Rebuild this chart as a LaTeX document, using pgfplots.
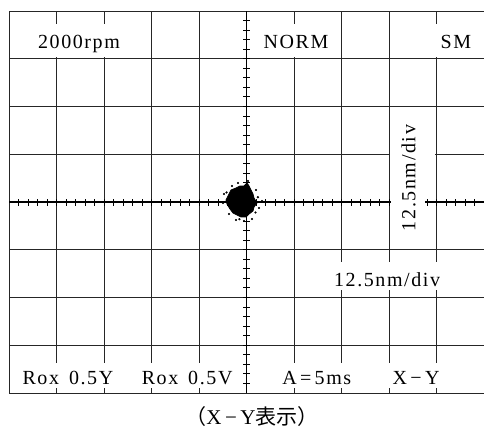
\documentclass[border=0pt]{standalone}
\usepackage{pgfplots}
\pgfplotsset{compat=1.18}
\usepackage{fontspec}
\setmainfont{Liberation Serif}[LetterSpace=8]
\newfontfamily\cjk{Noto Sans CJK JP}
\tikzset{lbl/.style={font=\fontsize{20}{24}\selectfont, inner sep=0pt}}
\begin{document}
\begin{tikzpicture}
\useasboundingbox (0,0) rectangle (484pt,429pt);
\begin{axis}[at={(9pt,36pt)}, anchor=south west, scale only axis,
  width=475pt, height=382pt, xmin=-5, xmax=5, ymin=-4, ymax=4,
  hide axis, clip=false]
% grid
\pgfplotsinvokeforeach{-5,-4,-3,-2,-1,1,2,3,4}{\draw[line width=0.9pt,black!85] (axis cs:#1,-4) -- (axis cs:#1,4);}
\pgfplotsinvokeforeach{-4,-3,-2,-1,1,2,3,4}{\draw[line width=0.9pt,black!85] (axis cs:-5,#1) -- (axis cs:5,#1);}
% white label boxes
\fill[white] (axis cs:-4.97,3.03) rectangle (axis cs:-2.03,3.72);
\fill[white] (axis cs:0.03,3.03) rectangle (axis cs:1.97,3.72);
\fill[white] (axis cs:3.03,3.03) rectangle (axis cs:5,3.72);
\fill[white] (axis cs:-4.97,-3.9) rectangle (axis cs:5,-3.37);
\fill[white] (axis cs:3.03,-0.95) rectangle (axis cs:3.97,1.85);
\fill[white] (axis cs:1.75,-1.26) rectangle (axis cs:4.2,-1.84);
% centre lines with minor ticks
\draw[line width=1.1pt,black] (axis cs:0,-4) -- (axis cs:0,4);
\draw[line width=1.1pt,black] (axis cs:-5,0) -- (axis cs:5,0);
\pgfplotsinvokeforeach{-3.8,-3.6,-3.4,-3.2,-3,-2.8,-2.6,-2.4,-2.2,-2,-1.8,-1.6,-1.4,-1.2,-1,-0.8,-0.6,-0.4,-0.2,0.2,0.4,0.6,0.8,1,1.2,1.4,1.6,1.8,2,2.2,2.4,2.6,2.8,3,3.2,3.4,3.6,3.8}{\draw[line width=1pt] ([xshift=-3.5pt]axis cs:0,#1) -- ([xshift=3.5pt]axis cs:0,#1);}
\pgfplotsinvokeforeach{-4.8,-4.6,-4.4,-4.2,-4,-3.8,-3.6,-3.4,-3.2,-3,-2.8,-2.6,-2.4,-2.2,-2,-1.8,-1.6,-1.4,-1.2,-1,-0.8,-0.6,-0.4,-0.2,0.2,0.4,0.6,0.8,1,1.2,1.4,1.6,1.8,2,2.2,2.4,2.6,2.8,3,3.2,3.4,3.6,3.8,4,4.2,4.4,4.6,4.8}{\draw[line width=1pt] ([yshift=-3.5pt]axis cs:#1,0) -- ([yshift=3.5pt]axis cs:#1,0);}
\fill[white] (axis cs:3.05,-0.12) rectangle (axis cs:3.76,0.12);
% labels
\node[lbl,anchor=base] at (axis cs:-3.526,3.225) {2000rpm};
\node[lbl,anchor=base] at (axis cs:1.04,3.225) {NORM};
\node[lbl,anchor=base] at (axis cs:4.41,3.225) {SM};
\node[lbl,rotate=90] at (axis cs:3.41,0.503) {12.5nm/div};
\node[lbl,anchor=base] at (axis cs:2.96,-1.78) {12.5nm/div};
\node[lbl,anchor=base] at (axis cs:-3.76,-3.83) {Rox\, 0.5Y};
\node[lbl,anchor=base] at (axis cs:-1.25,-3.83) {Rox\, 0.5V};
\node[lbl,anchor=base] at (axis cs:1.48,-3.83) {A\,=\,5ms};
\node[lbl,anchor=base] at (axis cs:3.57,-3.83) {X\,\textminus\,Y};
\node[anchor=base,inner sep=0pt,font=\fontsize{21}{24}\selectfont] at (axis cs:0.116,-4.66) {{\cjk （}X\,\textminus\,Y{\cjk 表示）}};
% the spot
\addplot[fill=black, draw=black, line width=0.8pt] coordinates {
(-0.389,0.126) (-0.326,0.251) (-0.221,0.293) (-0.137,0.335) (-0.053,0.335)
(0.011,0.398) (0.053,0.335) (0.095,0.251) (0.137,0.168) (0.158,0.084)
(0.221,-0.021) (0.158,-0.105) (0.137,-0.188) (0.053,-0.251) (-0.011,-0.314)
(-0.116,-0.314) (-0.2,-0.272) (-0.284,-0.230) (-0.347,-0.147) (-0.411,-0.042)
(-0.432,0.042)} --cycle;
\addplot[only marks, mark=*, mark size=0.9pt, black] coordinates {
(-0.474,0.168) (-0.495,-0.021) (-0.368,-0.251) (-0.053,-0.398) (0.116,-0.356)
(0.263,-0.126) (0.2,0.251) (-0.305,0.335) (-0.179,0.398) (0.326,0.021) (-0.221,-0.377)
(0.03,0.44) (-0.42,0.2) (0.24,0.1) (-0.15,-0.36) (0.19,-0.22)};
\end{axis}
\end{tikzpicture}
\end{document}
